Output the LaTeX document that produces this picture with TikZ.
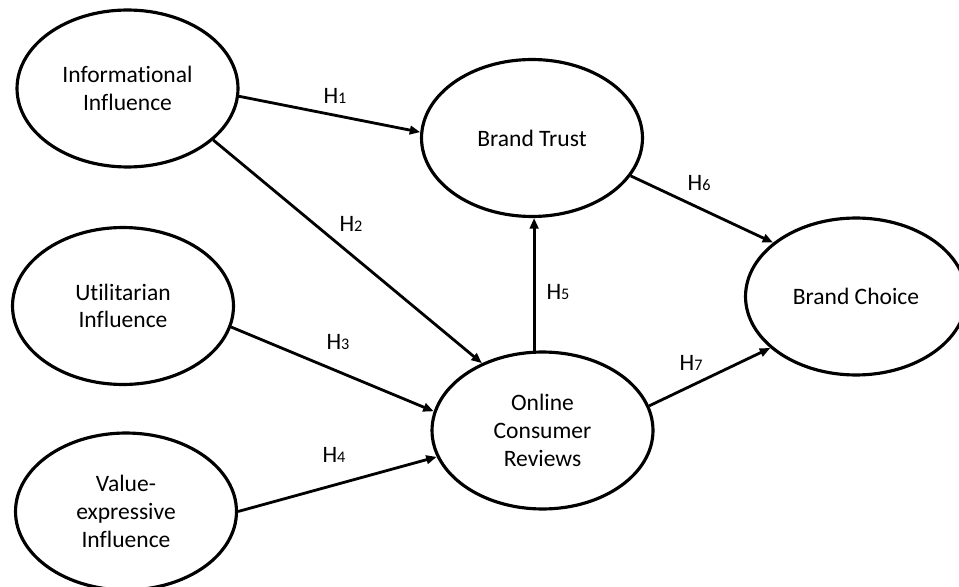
\documentclass[tikz,border=0pt]{standalone}
\usepackage{fontspec}
\setmainfont{Carlito}[Ligatures=CommonOff]
\usepackage{tikz}
\usetikzlibrary{shapes,arrows}
\usetikzlibrary{arrows.meta}
\newcommand{\hypno}[1]{H{\fontsize{9.2pt}{9.2pt}\selectfont #1}}

\begin{document}
\begin{tikzpicture}[x=0.02cm, y=-0.02cm]
\tikzstyle{construct}=[ellipse, draw=black, line width=1.8pt, minimum width=4.42cm, minimum height=3.14cm, inner sep=0pt, align=center, font=\fontsize{13.4pt}{15.8pt}\selectfont]
\tikzstyle{effect}=[draw=black, line width=1.6pt, -{Triangle[length=0.21cm, width=0.17cm]}]
\tikzstyle{hyp}=[inner sep=0pt, font=\fontsize{13.4pt}{15.8pt}\selectfont]

% Page frame
\useasboundingbox (0,0) rectangle (959,587);

% Constructs
\node[construct] (info-infl) at (127.5,88.5) {Informational \\ Influence};
\node[construct] (util-infl) at (123,306) {Utilitarian \\ Influence};
\node[construct] (value-infl) at (126,511.5) {Value- \\ expressive \\ Influence};
\node[construct] (trust) at (532,138) {Brand Trust};
\node[construct] (reviews) at (542.5,430.5) {Online \\ Consumer \\ Reviews};
\node[construct] (choice) at (856,296.5) {Brand Choice};

% Hypothesised paths
\path[effect] (info-infl.-4) -- (trust.177);
\path[effect] (info-infl.-31) -- (reviews.132);
\path[effect] (util-infl.-11) -- (reviews.170);
\path[effect] (value-infl.0) -- (reviews.-166);
\path[effect] (reviews.96) -- (reviews.96 |- trust.south);
\path[effect] (trust.-21) -- (choice.147);
\path[effect] (reviews.13) -- (choice.-149);

\node[hyp] (h1) at (335,96) {\hypno{1}};
\node[hyp] (h2) at (351,224) {\hypno{2}};
\node[hyp] (h3) at (338,342) {\hypno{3}};
\node[hyp] (h4) at (334,455) {\hypno{4}};
\node[hyp] (h5) at (558,292) {\hypno{5}};
\node[hyp] (h6) at (699,183) {\hypno{6}};
\node[hyp] (h7) at (691,363) {\hypno{7}};
\end{tikzpicture}
\end{document}
